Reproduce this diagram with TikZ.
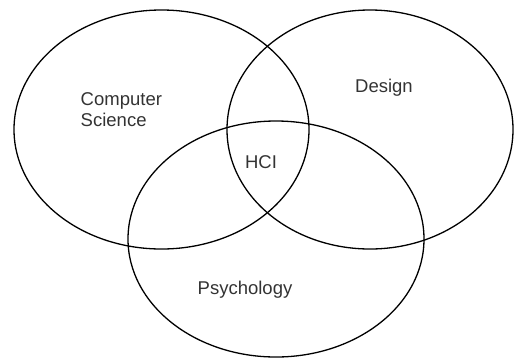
\documentclass[tikz,border=0pt]{standalone}
\usepackage{fontspec}
\setmainfont{Liberation Sans}
\usetikzlibrary{shapes.geometric}

\begin{document}
\begin{tikzpicture}[x=1pt,y=-1pt,thick,set node/.style={ellipse,draw,inner sep=0pt,line width=1.3pt},label node/.style={text=black!80,font=\fontsize{18.5}{21}\selectfont}]

            \useasboundingbox (0,0) rectangle (514,360);

            \node[set node, minimum width=295pt, minimum height=239pt] (cs) at (161.5,129.5) {};
            \node[set node, minimum width=286pt, minimum height=239pt] (design) at (370,129.5) {};
            \node[set node, minimum width=296pt, minimum height=236pt] (psych) at (276,239) {};

            \node[label node, align=left, anchor=west] (cslabel) at (77,110) {Computer\\Science};
            \node[label node] (designlabel) at (384,88) {Design};
            \node[label node] (hci) at (261,162) {HCI};
            \node[label node] (psychlabel) at (245,290) {Psychology};

        \end{tikzpicture}
\end{document}
